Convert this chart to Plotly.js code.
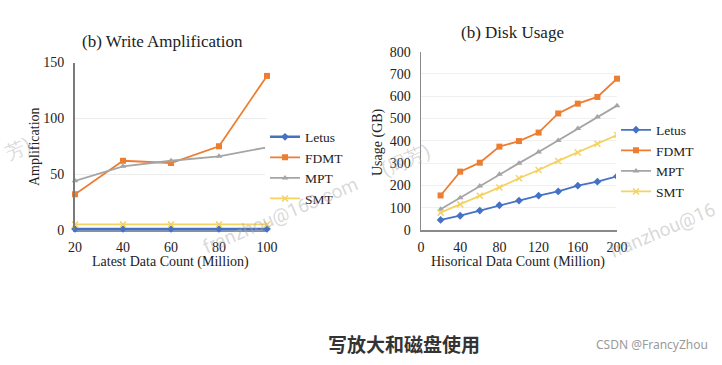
<!DOCTYPE html>
<html>
<head>
<meta charset="utf-8">
<script src="https://cdn.plot.ly/plotly-3.0.1.min.js"></script>
<style>html,body{margin:0;padding:0;background:#fff;}#chart{width:722px;height:365px;}</style>
</head>
<body>
<div id="chart"></div>
<script>
// ---- data ----
const seriesNames = ["Letus", "FDMT", "MPT", "SMT"];
const latestCount = [20, 40, 60, 80, 100];
const ampLetus = [1, 1, 1, 1, 1];
const ampFDMT = [32, 62, 60, 75, 138];
const ampMPT = [44, 57, 62, 66, 74];
const ampSMT = [5, 5, 5, 5, 5];

const histCount = [20, 40, 60, 80, 100, 120, 140, 160, 180, 200];
const useLetus = [45, 64, 87, 111, 132, 154, 173, 199, 217, 241];
const useFDMT = [155, 262, 302, 374, 399, 437, 523, 567, 597, 679];
const useMPT = [93, 145, 197, 250, 300, 350, 402, 455, 507, 558];
const useSMT = [78, 115, 154, 191, 232, 269, 310, 348, 387, 426];

const leftTicks = [0, 50, 100, 150];
const leftXTicks = [20, 40, 60, 80, 100];
const rightTicks = [0, 100, 200, 300, 400, 500, 600, 700, 800];
const rightXTicks = [0, 40, 80, 120, 160, 200];

// ---- style ----
const W = 722, H = 365;
const px = x => x / W, py = y => 1 - y / H;
const colors = ["#4472C4", "#ED7D31", "#A5A5A5", "#F4D264"];
const symbols = ["diamond", "square", "triangle-up", "x-thin-open"];
const serif = "Liberation Serif";

function mk(x, y, i, xa, ya, leg) {
  return {
    x: x, y: y, type: "scatter", mode: "lines+markers", name: seriesNames[i],
    xaxis: xa, yaxis: ya, legend: leg, cliponaxis: false,
    line: {color: colors[i], width: i === 0 && xa === "x" ? 2.5 : 1.8},
    marker: {color: colors[i], symbol: symbols[i], size: 6,
             line: {color: colors[i], width: i === 3 ? 1.5 : 0}}
  };
}

const ampSeries = [ampLetus, ampFDMT, ampMPT, ampSMT];
const useSeries = [useLetus, useFDMT, useMPT, useSMT];
const data = [];
ampSeries.forEach((s, i) => data.push(mk(latestCount, s, i, "x", "y", "legend")));
useSeries.forEach((s, i) => data.push(mk(histCount, s, i, "x2", "y2", "legend2")));

const tickFont = {family: serif, size: 14, color: "#222"};

function ann(text, x, y, size, opts) {
  return Object.assign({text: text, x: px(x), y: py(y), xref: "paper", yref: "paper",
    showarrow: false, xanchor: "center", yanchor: "middle",
    font: {family: serif, size: size, color: "#222"}}, opts || {});
}

const wmFont = {family: "Roboto", size: 19, color: "rgba(170,170,170,0.45)"};

const layout = {
  width: W, height: H,
  font: {family: serif, size: 14, color: "#222"},
  margin: {l: 0, r: 0, t: 0, b: 0},
  paper_bgcolor: "#fff", plot_bgcolor: "#fff",
  xaxis: {domain: [px(75), px(267)], range: [20, 100], tickvals: leftXTicks,
    showgrid: false, zeroline: false, showline: true, linecolor: "#7f8fb0", linewidth: 1.5,
    layer: "below traces", tickfont: tickFont, ticks: "", ticklabelstandoff: 4, fixedrange: true},
  yaxis: {domain: [py(230), py(62.5)], range: [0, 150], tickvals: leftTicks,
    showgrid: true, gridcolor: "#ececec", gridwidth: 1, zeroline: false,
    showline: true, linecolor: "#7a7a7a", linewidth: 2, tickfont: tickFont, ticks: "",
    ticklabelstandoff: 6, anchor: "x", fixedrange: true},
  xaxis2: {domain: [px(421), px(617)], range: [0, 200], tickvals: rightXTicks,
    showgrid: false, zeroline: false, showline: true, linecolor: "#8a8a8a", linewidth: 1.5,
    tickfont: tickFont, ticks: "", ticklabelstandoff: 4, anchor: "y2", fixedrange: true},
  yaxis2: {domain: [py(230), py(51.7)], range: [0, 800], tickvals: rightTicks,
    showgrid: true, gridcolor: "#f0f0f0", gridwidth: 1, zeroline: false,
    showline: true, linecolor: "#8a8a8a", linewidth: 1.5, tickfont: tickFont, ticks: "",
    ticklabelstandoff: 6, anchor: "x2", fixedrange: true},
  legend: {x: px(265), y: py(121.5), xanchor: "left", yanchor: "top",
    font: {family: serif, size: 13.5, color: "#222"}, itemwidth: 30},
  legend2: {x: px(616), y: py(114.5), xanchor: "left", yanchor: "top",
    font: {family: serif, size: 13.5, color: "#222"}, itemwidth: 30},
  annotations: [
    ann("(b) Write Amplification", 162, 42, 17),
    ann("(b) Disk Usage", 512, 33, 17),
    ann("Latest Data Count (Million)", 170, 262, 14),
    ann("Hisorical Data Count (Million)", 518, 262, 14),
    ann("Amplification", 34, 147, 14, {textangle: -90}),
    ann("Usage (GB)", 378, 142, 14, {textangle: -90}),
    ann("写放大和磁盘使用", 404, 343, 19,
      {font: {family: "Noto Sans CJK SC", size: 19, color: "#333", weight: 700}}),
    ann("CSDN @FrancyZhou", 652, 344, 12,
      {font: {family: "Noto Sans", size: 12, color: "#9a9a9a"}}),
    ann("franzhou@163.com", 280, 215, 19, {textangle: -23, font: wmFont}),
    ann("(周芳)", 405, 160, 19, {textangle: -23, font: wmFont}),
    ann("franzhou@16", 662, 231, 19, {textangle: -23, font: wmFont}),
    ann("芳)", 18, 148, 19, {textangle: -23, font: wmFont})
  ]
};

Plotly.newPlot("chart", data, layout, {staticPlot: true, displayModeBar: false});
</script>
</body>
</html>
